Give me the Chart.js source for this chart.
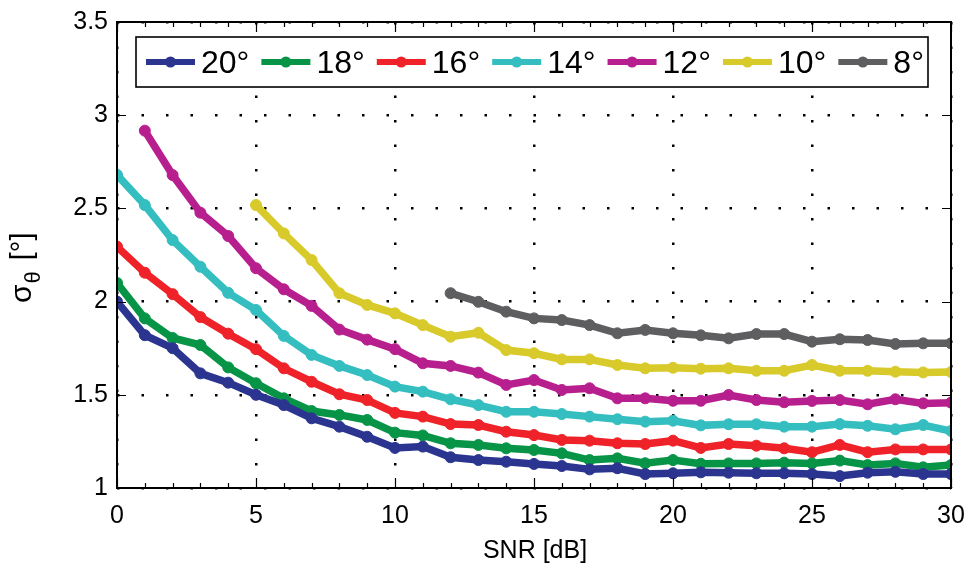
<!DOCTYPE html>
<html>
<head>
<meta charset="utf-8">
<script src="https://cdn.jsdelivr.net/npm/chart.js@4.4.1/dist/chart.umd.min.js"></script>
<style>
  html, body { margin: 0; padding: 0; background: #ffffff; }
  #wrap { width: 965px; height: 565px; }
</style>
</head>
<body>
<div id="wrap"><canvas id="c" width="965" height="565"></canvas></div>
<script>
// ---- data ----
const snr = [0,1,2,3,4,5,6,7,8,9,10,11,12,13,14,15,16,17,18,19,20,21,22,23,24,25,26,27,28,29,30];
const seriesNames = ['20°','18°','16°','14°','12°','10°','8°'];
const s20 = [2.00,1.82,1.75,1.615,1.565,1.50,1.445,1.374,1.329,1.275,1.215,1.222,1.165,1.150,1.141,1.129,1.118,1.100,1.106,1.075,1.079,1.084,1.082,1.079,1.079,1.075,1.064,1.082,1.087,1.075,1.075];
const s18 = [2.10,1.91,1.805,1.767,1.647,1.562,1.481,1.413,1.392,1.365,1.297,1.282,1.240,1.231,1.213,1.204,1.186,1.150,1.159,1.133,1.150,1.130,1.132,1.132,1.136,1.132,1.147,1.123,1.132,1.111,1.123];
const s16 = [2.295,2.155,2.04,1.917,1.828,1.745,1.642,1.570,1.503,1.472,1.403,1.383,1.343,1.338,1.302,1.284,1.258,1.254,1.240,1.236,1.254,1.215,1.236,1.227,1.213,1.192,1.231,1.192,1.207,1.207,1.207];
const s14 = [2.68,2.518,2.330,2.187,2.047,1.955,1.816,1.714,1.655,1.606,1.544,1.517,1.476,1.445,1.409,1.409,1.397,1.383,1.369,1.356,1.361,1.336,1.342,1.342,1.329,1.329,1.343,1.334,1.315,1.338,1.306];
const s12 = [null,2.917,2.679,2.477,2.352,2.179,2.066,1.977,1.850,1.796,1.745,1.669,1.655,1.619,1.553,1.579,1.526,1.535,1.481,1.481,1.468,1.468,1.499,1.472,1.460,1.467,1.472,1.449,1.476,1.454,1.458];
const s10 = [null,null,null,null,null,2.518,2.366,2.223,2.045,1.982,1.937,1.874,1.812,1.833,1.740,1.723,1.690,1.690,1.660,1.642,1.645,1.640,1.642,1.629,1.629,1.660,1.629,1.629,1.624,1.620,1.622];
const s8  = [null,null,null,null,null,null,null,null,null,null,null,null,2.045,1.999,1.946,1.910,1.901,1.874,1.830,1.848,1.830,1.819,1.803,1.826,1.826,1.785,1.798,1.794,1.773,1.776,1.776];
const xTicks = [0,5,10,15,20,25,30];
const yTicks = [1,1.5,2,2.5,3,3.5];
const xLabel = 'SNR [dB]';

const colors = ['#2B3590','#079447','#EE2228','#35BEC0','#B81F8E','#D8CA2A','#5E5E60'];
const allSeries = [s20,s18,s16,s14,s12,s10,s8];

const datasets = allSeries.map((s, i) => ({
  label: seriesNames[i],
  data: snr.map((x, k) => ({x: x, y: s[k]})).filter(p => p.y !== null),
  borderColor: colors[i],
  backgroundColor: colors[i],
  pointBackgroundColor: colors[i],
  pointBorderColor: colors[i],
  borderWidth: 7.5,
  pointRadius: 5.5,
  pointBorderWidth: 1,
  tension: 0,
  fill: false
}));

const FONT = '"Liberation Sans", Arial, sans-serif';

const deco = {
  id: 'deco',
  afterDatasetsDraw(chart) {
    const ctx = chart.ctx;
    const a = chart.chartArea;
    const xs = chart.scales.x, ys = chart.scales.y;
    ctx.save();
    ctx.strokeStyle = '#000';
    ctx.lineWidth = 1.2;
    ctx.beginPath();
    for (let v = 0; v <= 30; v++) {
      const px = Math.round(xs.getPixelForValue(v)) + 0.5;
      const len = (v % 5 === 0) ? 10 : 5;
      ctx.moveTo(px, a.bottom); ctx.lineTo(px, a.bottom - len);
      ctx.moveTo(px, a.top); ctx.lineTo(px, a.top + len);
    }
    yTicks.forEach(v => {
      const py = Math.round(ys.getPixelForValue(v)) + 0.5;
      ctx.moveTo(a.left, py); ctx.lineTo(a.left + 9, py);
      ctx.moveTo(a.right, py); ctx.lineTo(a.right - 9, py);
    });
    ctx.stroke();
    ctx.lineWidth = 2;
    ctx.strokeRect(a.left, a.top, a.right - a.left, a.bottom - a.top);
    ctx.restore();
  },
  afterDraw(chart) {
    const ctx = chart.ctx;
    ctx.save();
    // legend box
    const bx = 136, by = 37, bw = 792, bh = 50;
    ctx.fillStyle = '#fff';
    ctx.fillRect(bx, by, bw, bh);
    ctx.strokeStyle = '#000';
    ctx.lineWidth = 1.6;
    ctx.strokeRect(bx, by, bw, bh);
    ctx.font = '32px ' + FONT;
    ctx.textBaseline = 'alphabetic';
    ctx.textAlign = 'left';
    let x = 146;
    const ly = 62, tb = 73;
    seriesNames.forEach((name, i) => {
      ctx.strokeStyle = colors[i];
      ctx.lineWidth = 6;
      ctx.beginPath(); ctx.moveTo(x, ly); ctx.lineTo(x + 49, ly); ctx.stroke();
      ctx.fillStyle = colors[i];
      ctx.beginPath(); ctx.arc(x + 24.5, ly, 5.5, 0, Math.PI * 2); ctx.fill();
      ctx.fillStyle = '#000';
      ctx.fillText(name, x + 55, tb);
      x += 55 + ctx.measureText(name).width + 12;
    });
    // x title
    ctx.font = '25px ' + FONT;
    ctx.textAlign = 'center';
    ctx.fillStyle = '#000';
    ctx.fillText(xLabel, 535, 558);
    // y title: sigma_theta [deg]
    ctx.translate(31, 303);
    ctx.rotate(-Math.PI / 2);
    ctx.textAlign = 'left';
    ctx.font = '30px ' + FONT;
    ctx.fillText('σ', 0, 0);
    let w = ctx.measureText('σ').width;
    ctx.font = '22px ' + FONT;
    ctx.fillText('θ', w + 1, 9);
    w += 1 + ctx.measureText('θ').width;
    ctx.font = '29px ' + FONT;
    ctx.fillText(' [°]', w + 3, 0);
    ctx.restore();
  }
};

new Chart(document.getElementById('c'), {
  type: 'line',
  data: { datasets: datasets },
  options: {
    responsive: false,
    animation: false,
    devicePixelRatio: 1,
    layout: { padding: { top: 22, right: 14, left: 0, bottom: 0 } },
    plugins: { legend: { display: false }, tooltip: { enabled: false } },
    scales: {
      x: {
        type: 'linear', min: 0, max: 30,
        afterBuildTicks: s => { s.ticks = xTicks.map(v => ({value: v})); },
        afterFit: s => { s.height = 77; s.paddingLeft = 0; s.paddingRight = 0; },
        grid: { color: '#000', lineWidth: 2.5, drawTicks: false },
        border: { display: false, dash: [2.5, 22] },
        ticks: { autoSkip: false, maxRotation: 0, padding: 13, color: '#000', font: { family: FONT, size: 25 },
                 callback: v => String(v) }
      },
      y: {
        type: 'linear', min: 1, max: 3.5,
        afterBuildTicks: s => { s.ticks = yTicks.map(v => ({value: v})); },
        afterFit: s => { s.width = 117; s.paddingTop = 0; s.paddingBottom = 0; },
        grid: { color: '#000', lineWidth: 2.5, drawTicks: false },
        border: { display: false, dash: [2.5, 22] },
        ticks: { padding: 9, color: '#000', font: { family: FONT, size: 25 },
                 callback: v => String(v) }
      }
    }
  },
  plugins: [deco]
});
</script>
</body>
</html>
